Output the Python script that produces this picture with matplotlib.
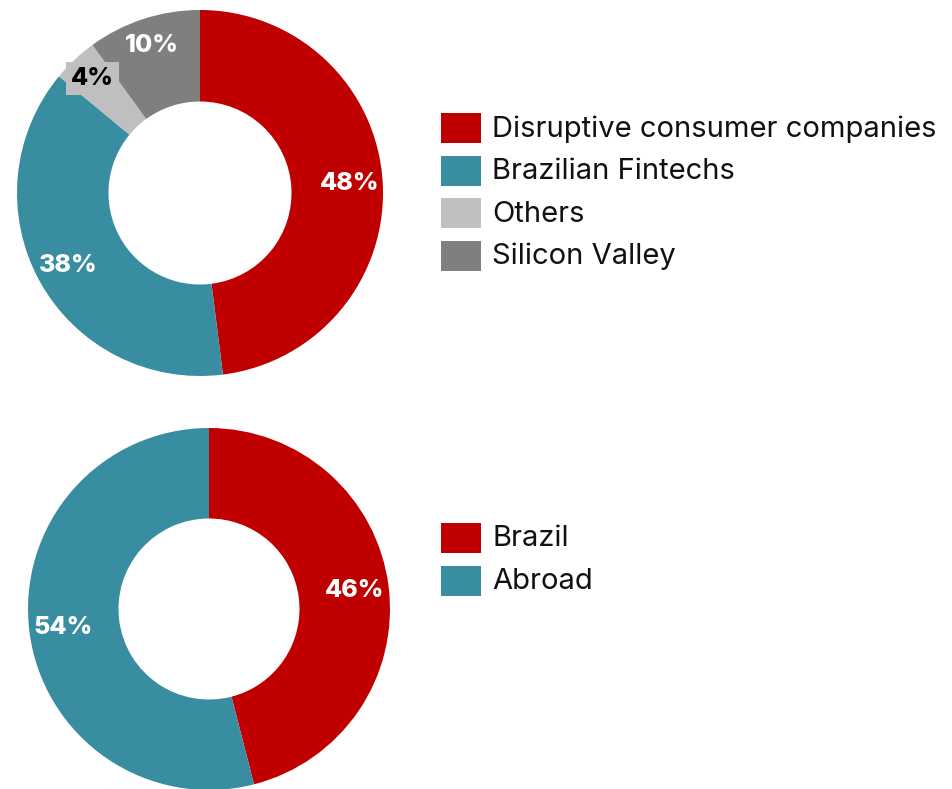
import matplotlib
matplotlib.use("Agg")
import matplotlib.pyplot as plt
from matplotlib.patches import Rectangle
import numpy as np

# Portfolio breakdown by segment
seg_labels = ["Disruptive consumer companies", "Brazilian Fintechs", "Others", "Silicon Valley"]
seg_values = [48, 38, 4, 10]
seg_colors = ["#C00000", "#388EA0", "#BFBFBF", "#7F7F7F"]
seg_text_colors = ["white", "white", "black", "white"]

# Portfolio breakdown by geography
geo_labels = ["Brazil", "Abroad"]
geo_values = [46, 54]
geo_colors = ["#C00000", "#388EA0"]
geo_text_colors = ["white", "white"]

W, H = 952, 789
FONT = "Inter"
fig = plt.figure(figsize=(W / 100, H / 100), dpi=100)


def donut(cx, cy, r, values, colors, text_colors, label_r, label_boxes=()):
    ax = fig.add_axes([(cx - r) / W, (H - cy - r) / H, 2 * r / W, 2 * r / H])
    wedges, _ = ax.pie(values, colors=colors, startangle=90, counterclock=False,
                       radius=1, wedgeprops=dict(width=0.5, linewidth=0))
    for i, (w, v, tc) in enumerate(zip(wedges, values, text_colors)):
        ang = np.deg2rad((w.theta1 + w.theta2) / 2)
        x, y = label_r[i] * np.cos(ang), label_r[i] * np.sin(ang)
        kw = {}
        if i in label_boxes:
            kw["bbox"] = dict(boxstyle="square,pad=0.2", fc=colors[i], ec="none")
        ax.text(x, y, f"{v}%", ha="center", va="center", color=tc,
                fontsize=18, fontweight="heavy", family=FONT, **kw)
    ax.set_xlim(-1, 1)
    ax.set_ylim(-1, 1)
    ax.set_aspect("equal")
    ax.axis("off")
    return ax


def legend(x0, y0, labels, colors, step=42.5):
    for i, (lab, c) in enumerate(zip(labels, colors)):
        y = y0 + i * step
        fig.patches.append(Rectangle((x0 / W, (H - y - 15) / H), 40 / W, 30 / H,
                                     transform=fig.transFigure, fc=c, ec="none"))
        fig.text((x0 + 51) / W, (H - y - 1) / H, lab, ha="left", va="center",
                 fontsize=21, family=FONT, color="#111111")


donut(200, 193, 183, seg_values, seg_colors, seg_text_colors,
      label_r=[0.82, 0.82, 0.86, 0.85], label_boxes=(2,))
donut(209, 609, 181, geo_values, geo_colors, geo_text_colors,
      label_r=[0.81, 0.81])

legend(441, 128, seg_labels, seg_colors)
legend(441, 538, geo_labels, geo_colors)

fig.savefig("out.png", dpi=100, facecolor="white")
